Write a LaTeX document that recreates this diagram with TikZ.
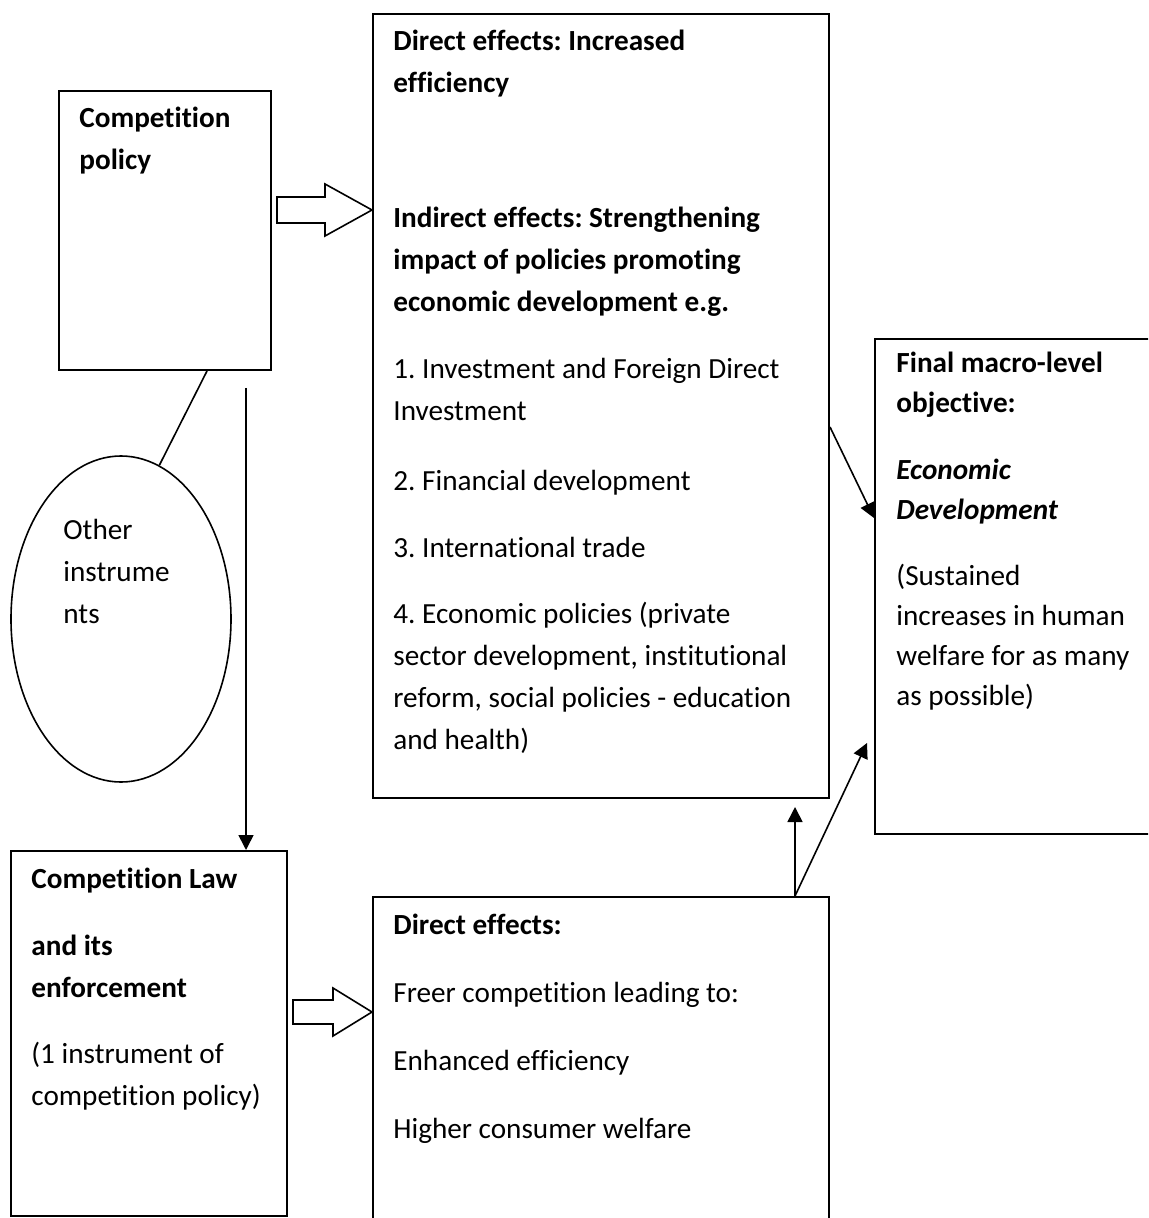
\documentclass[tikz,border=0pt]{standalone}
\usepackage{fontspec}
\setmainfont{Carlito}[Ligatures=NoCommon]
\usetikzlibrary{arrows.meta,calc,shapes.geometric}
\frenchspacing

\begin{document}
\begin{tikzpicture}[x=0.5pt,y=-0.5pt]
\tikzset{
    box/.style={draw, line width=1pt, rectangle, anchor=north west, inner sep=0pt},
    txt/.style={anchor=base west, align=left, inner sep=0pt, font=\fontsize{14.6}{21}\selectfont},
    arr/.style={line width=0.8pt, -{Triangle[length=7.5pt,width=7.5pt]}},
    hollow/.style={draw, line width=0.8pt, fill=white, line join=miter},
}
\useasboundingbox (0,0) rectangle (1148,1218);
\clip (0,0) rectangle (1148,1218);

% The boxes first.
\node[box, minimum width=106pt, minimum height=139.5pt] (pol) at (58,90) {};
\node[box, minimum width=228pt, minimum height=392pt] (mid) at (372,13) {};
\node[box, minimum width=150pt, minimum height=247.5pt] (fin) at (874,338) {};
\node[box, minimum width=138pt, minimum height=182.5pt] (law) at (10,850) {};
\node[box, minimum width=228pt, minimum height=200pt] (dir) at (372,896) {};
\node[draw, line width=0.8pt, ellipse, inner sep=0pt, minimum width=110pt, minimum height=163pt] (oth) at (121,619) {};

% Then the texts in them (placed by the baseline of their last line).
\node[txt] (polT) at (79,170) {\textbf{Competition}\\\textbf{policy}};
\node[txt] (midT) at (393,749) {\textbf{Direct effects: Increased}\\\textbf{efficiency}\\[46.5pt]
    \textbf{Indirect effects: Strengthening}\\\textbf{impact of policies promoting}\\\textbf{economic development e.g.}\\[12.5pt]
    1. Investment and Foreign Direct\\Investment\\[14pt]
    2. Financial development\\[12.5pt]
    3. International trade\\[12pt]
    4. Economic policies (private\\sector development, institutional\\reform, social policies - education\\and health)};
\node[txt, font=\fontsize{14.6}{20}\selectfont] (finT) at (896,705) {\textbf{Final macro-level}\\\textbf{objective:}\\[13.5pt]
    \textbf{\textit{Economic}}\\\textbf{\textit{Development}}\\[13pt]
    (Sustained\\increases in human\\welfare for as many\\as possible)};
\node[txt] (othT) at (63,623) {Other\\instrume\\nts};
\node[txt] (lawT) at (31,1105) {\textbf{Competition Law}\\[12.5pt]
    \textbf{and its}\\\textbf{enforcement}\\[12pt]
    (1 instrument of\\competition policy)};
\node[txt] (dirT) at (393,1138) {\textbf{Direct effects:}\\[13pt]
    Freer competition leading to:\\[13pt]
    Enhanced efficiency\\[13pt]
    Higher consumer welfare};

% Connectors.
\draw[line width=0.8pt] ($(pol.south west)+(149,0)$) -- (oth.76);
\draw[arr] ($(pol.south west)+(188,17)$) coordinate (v1) -- (v1 |- law.north);
\draw[arr] ($(mid.north east)+(0,414)$) -- ($(fin.north west)+(0,180)$);
\draw[arr] ($(dir.north west)+(423,0)$) coordinate (v2) -- ($(v2 |- mid.south)+(0,8)$);
\draw[arr] (v2) -- ($(fin.north west)+(-7,405)$);

% Block arrows, drawn from their tips.
\coordinate (b1) at ($(mid.north west)+(0,197)$);
\coordinate (b2) at ($(dir.north west)+(0,116)$);
\draw[hollow] (b1) -- ++(-47,-26) -- ++(0,13) -- ++(-48,0) -- ++(0,26) -- ++(48,0) -- ++(0,13) -- cycle;
\draw[hollow] (b2) -- ++(-39,-24) -- ++(0,12) -- ++(-40,0) -- ++(0,24) -- ++(40,0) -- ++(0,12) -- cycle;
\end{tikzpicture}
\end{document}
